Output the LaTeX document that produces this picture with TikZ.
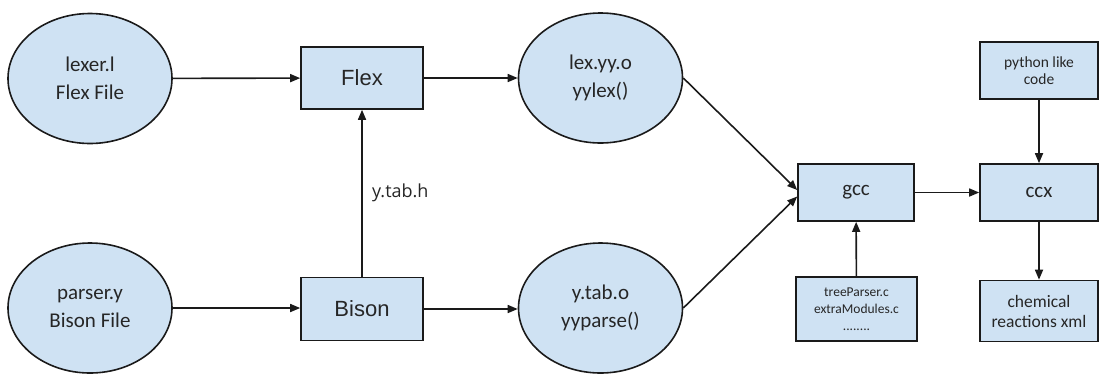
\documentclass[tikz,border=0pt]{standalone}
\usepackage{fontspec}
\setmainfont{Carlito}
\newfontfamily\arialf{Liberation Sans}
\newfontfamily\opensans{Open Sans}
\usetikzlibrary{shapes.geometric,arrows.meta}
\definecolor{fillblue}{HTML}{CFE2F3}
\definecolor{edge}{HTML}{1A1A1A}
\tikzset{
  oval/.style={ellipse, draw=edge, line width=1.6pt, fill=fillblue, inner sep=0pt,
    minimum width=164pt, minimum height=130pt, align=center,
    font=\fontsize{21}{28}\selectfont, text=black!85},
  box/.style={rectangle, draw=edge, line width=1.6pt, fill=fillblue, inner sep=0pt,
    align=center, text=black!85},
  conn/.style={draw=edge, line width=1.6pt, -{Triangle[length=10pt,width=8pt]}},
}
\begin{document}
\begin{tikzpicture}[x=1pt,y=-1pt]
\useasboundingbox (0,0) rectangle (1099,373);
% ellipses
\node[oval] (lexer) at (90,78.5) {lexer.l\\Flex File};
\node[oval] (parser) at (90,308) {parser.y\\Bison File};
\node[oval] (lexyy) at (600.5,78) {lex.yy.o\\yylex()};
\node[oval] (ytabo) at (600.5,308) {y.tab.o\\yyparse()};
% boxes
\node[box, minimum width=122pt, minimum height=62pt, font=\arialf\fontsize{22}{26}\selectfont] (flex) at (362,78) {Flex};
\node[box, minimum width=122pt, minimum height=63pt, font=\arialf\fontsize{22}{26}\selectfont] (bison) at (362,309) {Bison};
\node[box, minimum width=116pt, minimum height=57pt, font=\fontsize{21}{25}\selectfont] (gcc) at (856,192.5) {gcc};
\node[box, minimum width=121pt, minimum height=64pt, font=\fontsize{13.5}{17}\selectfont] (tree) at (856.5,309) {treeParser.c\\extraModules.c\\........};
\node[box, minimum width=118pt, minimum height=57pt, font=\fontsize{21}{25}\selectfont] (ccx) at (1039,192.5) {ccx};
\node[box, minimum width=118pt, minimum height=57pt, font=\fontsize{15.5}{17}\selectfont] (python) at (1039,70.5) {python like\\code};
\node[box, minimum width=118pt, minimum height=61pt, font=\fontsize{17.5}{20}\selectfont] (chem) at (1039,311) {chemical\\reactions xml};
% connectors
\draw[conn] (lexer) -- (flex);
\draw[conn] (flex) -- (flex -| lexyy.west);
\draw[conn] (parser) -- (parser -| bison.west);
\draw[conn] (bison) -- (bison -| ytabo.west);
\draw[conn] (bison) -- node[right, xshift=6pt, font=\opensans\fontsize{18}{22}\selectfont, text=black!85] {y.tab.h} (flex);
\draw[conn] (lexyy.east) -- ([yshift=2.5pt]gcc.west);
\draw[conn] (ytabo.east) -- ([yshift=-4pt]gcc.west);
\draw[conn] (tree) -- (gcc);
\draw[conn] (gcc) -- (ccx);
\draw[conn] (python) -- (ccx);
\draw[conn] (ccx) -- (chem);
\end{tikzpicture}
\end{document}
